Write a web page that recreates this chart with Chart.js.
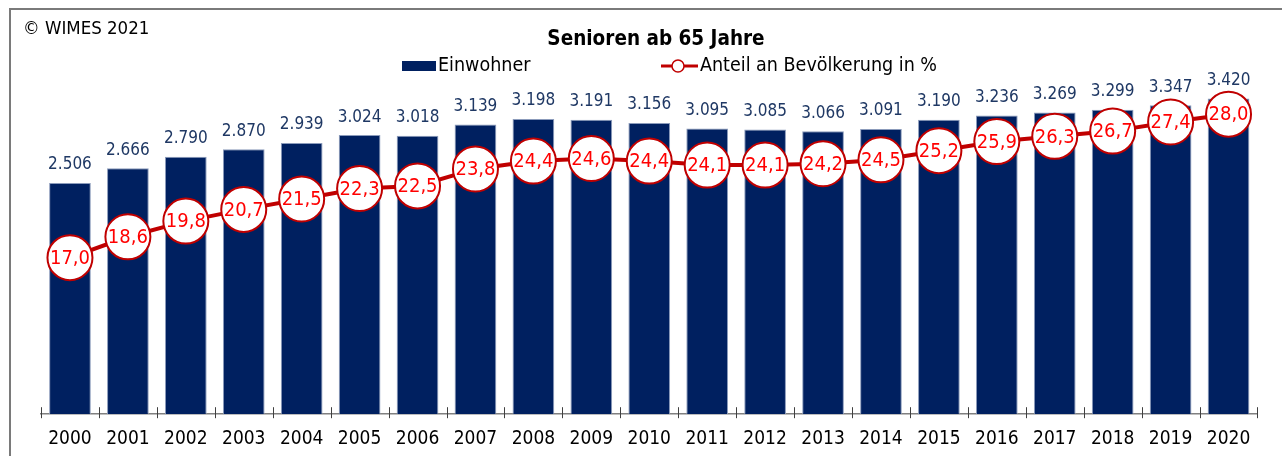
<!DOCTYPE html>
<html>
<head>
<meta charset="utf-8">
<script src="https://cdn.jsdelivr.net/npm/chart.js@4/dist/chart.umd.min.js"></script>
<style>
  html, body { margin: 0; padding: 0; background: #fff; overflow: hidden; }
  #chart { display: block; }
</style>
</head>
<body>
<canvas id="chart" width="1282" height="470"></canvas>
<script>
// Daten
const jahre = ['2000', '2001', '2002', '2003', '2004', '2005', '2006', '2007', '2008', '2009', '2010',
               '2011', '2012', '2013', '2014', '2015', '2016', '2017', '2018', '2019', '2020'];
const einwohner = [2506, 2666, 2790, 2870, 2939, 3024, 3018, 3139, 3198, 3191, 3156,
                   3095, 3085, 3066, 3091, 3190, 3236, 3269, 3299, 3347, 3420];
const anteil = [17.0, 18.6, 19.8, 20.7, 21.5, 22.3, 22.5, 23.8, 24.4, 24.6, 24.4,
                24.1, 24.1, 24.2, 24.5, 25.2, 25.9, 26.3, 26.7, 27.4, 28.0];

const titel = 'Senioren ab 65 Jahre';
const copyright = '\u00a9 WIMES 2021';
const legendeBalken = 'Einwohner';
const legendeLinie = 'Anteil an Bevölkerung in %';

const FONT = '"DejaVu Sans Condensed", "DejaVu Sans", sans-serif';
const NAVY = '#002060';
const DUNKELROT = '#C00000';

function tausender(v) {
    return v.toLocaleString('de-DE');
}
function komma(v) {
    return v.toFixed(1).replace('.', ',');
}

// Rahmen, Titel, Legende, Beschriftungen
const extras = {
    id: 'extras',
    beforeDraw(chart) {
        const ctx = chart.ctx;
        ctx.save();
        ctx.strokeStyle = '#7a7a7a';
        ctx.lineWidth = 2;
        ctx.strokeRect(10, 9, 1300, 500);

        ctx.fillStyle = '#000';
        ctx.textBaseline = 'middle';
        ctx.font = '18.5px ' + FONT;
        ctx.textAlign = 'left';
        ctx.fillText(copyright, 23, 29);

        ctx.font = 'bold 20.5px ' + FONT;
        ctx.textAlign = 'center';
        ctx.fillText(titel, 656, 40);

        // Legende
        ctx.font = '19.5px ' + FONT;
        ctx.textAlign = 'left';
        ctx.fillStyle = NAVY;
        ctx.fillRect(402, 61, 34, 10);
        ctx.fillStyle = '#000';
        ctx.fillText(legendeBalken, 438, 66);

        ctx.strokeStyle = DUNKELROT;
        ctx.lineWidth = 3;
        ctx.beginPath();
        ctx.moveTo(661, 66);
        ctx.lineTo(698, 66);
        ctx.stroke();
        ctx.beginPath();
        ctx.arc(678, 66, 6, 0, Math.PI * 2);
        ctx.fillStyle = '#fff';
        ctx.fill();
        ctx.lineWidth = 1.5;
        ctx.stroke();
        ctx.fillStyle = '#000';
        ctx.fillText(legendeLinie, 700, 66);
        ctx.restore();
    },
    afterDatasetsDraw(chart) {
        const ctx = chart.ctx;
        const x = chart.scales.x;
        ctx.save();

        // Teilstriche zwischen den Kategorien
        ctx.strokeStyle = '#404040';
        ctx.lineWidth = 1;
        const halb = (x.getPixelForValue(1) - x.getPixelForValue(0)) / 2;
        for (let i = 0; i <= jahre.length; i++) {
            const px = Math.round(x.getPixelForValue(i) - halb) + 0.5;
            ctx.beginPath();
            ctx.moveTo(px, x.top - 7);
            ctx.lineTo(px, x.top + 4);
            ctx.stroke();
        }

        // Werte über den Balken
        ctx.font = '17px ' + FONT;
        ctx.fillStyle = '#1F3864';
        ctx.textAlign = 'center';
        ctx.textBaseline = 'middle';
        chart.getDatasetMeta(0).data.forEach((bar, i) => {
            ctx.fillText(tausender(einwohner[i]), bar.x, bar.y - 18);
        });

        // Werte in den Kreisen
        ctx.font = '20px ' + FONT;
        ctx.fillStyle = '#FF0000';
        chart.getDatasetMeta(1).data.forEach((pt, i) => {
            ctx.fillText(komma(anteil[i]), pt.x, pt.y + 1);
        });
        ctx.restore();
    }
};

new Chart(document.getElementById('chart'), {
    data: {
        labels: jahre,
        datasets: [{
            type: 'bar',
            label: legendeBalken,
            data: einwohner,
            yAxisID: 'y',
            backgroundColor: NAVY,
            borderColor: '#8B9BBB',
            borderWidth: 1,
            barPercentage: 0.72,
            categoryPercentage: 1,
            order: 2
        }, {
            type: 'line',
            label: legendeLinie,
            data: anteil,
            yAxisID: 'y2',
            borderColor: DUNKELROT,
            borderWidth: 4,
            pointRadius: 22.5,
            pointBackgroundColor: '#fff',
            pointBorderColor: DUNKELROT,
            pointBorderWidth: 2,
            tension: 0,
            order: 1
        }]
    },
    options: {
        responsive: false,
        devicePixelRatio: 1,
        animation: false,
        layout: { padding: { left: 41, right: 17, top: 45, bottom: 15 } },
        plugins: {
            legend: { display: false },
            title: { display: false },
            tooltip: { enabled: false }
        },
        scales: {
            x: {
                grid: { display: false },
                border: { color: '#808080', width: 1.5 },
                ticks: { color: '#000', font: { size: 19, family: FONT }, padding: 5 }
            },
            y: { display: false, min: 0, max: 4000 },
            y2: { display: false, min: 5, max: 33.3 }
        }
    },
    plugins: [extras]
});
</script>
</body>
</html>
